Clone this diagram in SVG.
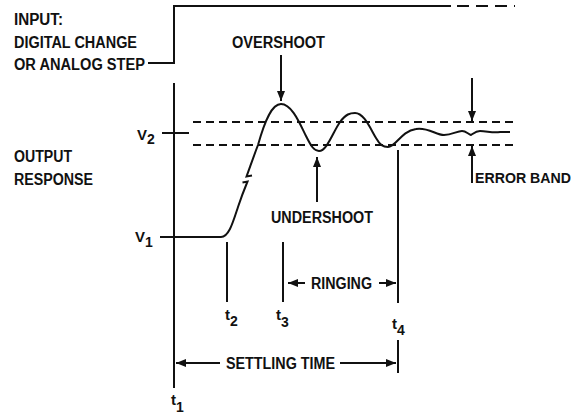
<svg xmlns="http://www.w3.org/2000/svg" width="577" height="415" viewBox="0 0 577 415">
<style>
.ln{stroke:#111;stroke-width:2;fill:none}
.dash{stroke:#111;stroke-width:2;fill:none;stroke-dasharray:8,5}
.t{font-family:"Liberation Sans",Arial,sans-serif;font-weight:bold;font-size:16px;fill:#111}
.v{font-size:15px}
.s{font-size:14px}
.e{font-size:14.6px}
</style>
<defs>
<marker id="ah" viewBox="0 0 10 8" refX="10" refY="4" markerWidth="10" markerHeight="8" markerUnits="userSpaceOnUse" orient="auto">
<path d="M0,0 L10,4 L0,8 z" fill="#111"/>
</marker>
</defs>
<rect width="577" height="415" fill="#fff"/>
<g id="input-step">
<path class="ln" d="M148,63 H174 V6 H451"/>
<path class="ln" d="M457,6 H515" stroke-dasharray="12,7"/>
</g>
<g id="axis">
<path class="ln" d="M174,83 V388"/>
<path class="ln" d="M162,133 H189"/>
</g>
<g id="error-band">
<path class="dash" d="M193,122 H518"/>
<path class="dash" d="M193,145 H518"/>
</g>
<g id="output-curve">
<path class="ln" d="M160,237 L221,237 C229,237 233,222 238,207 C240.5,199.5 244,190 247.5,181.5 L242.5,182.5"/>
<path class="ln" d="M252,175.5 L246.5,176.5 C249,170 253,158 258,145 C265,120 272,104 281,104 C292,104 300,124 306,136 C311,146 314,151 319,151 C327,151 333,132 340,122 C346,114 350,113 355,113 C364,113 370,128 376,138 C380,145 383,147 388,147 C396,147 401,131 416,129 C428,127 436,135 444,135 C452,135 457,131 462,131 C466,131 468,134 471,135 C474,133 476,131 480,131 C487,131 492,133 500,132 L510,132"/>
</g>
<g id="time-markers">
<path class="ln" d="M227,242 V302"/>
<path class="ln" d="M283,242 V302"/>
<path class="ln" d="M398,150 V303"/>
<path class="ln" d="M398,340 V373"/>
</g>
<g id="connectors">
<path class="ln" marker-end="url(#ah)" d="M281,55 V101"/>
<path class="ln" marker-end="url(#ah)" d="M317,202 V157"/>
<path class="ln" marker-end="url(#ah)" d="M472,78 V121"/>
<path class="ln" marker-end="url(#ah)" d="M472,183 V146"/>
<path class="ln" marker-end="url(#ah)" d="M305,283 H288"/>
<path class="ln" marker-end="url(#ah)" d="M379,283 H396"/>
<path class="ln" marker-end="url(#ah)" d="M220,363 H176"/>
<path class="ln" marker-end="url(#ah)" d="M340,363 H396"/>
</g>
<g id="labels">
<text class="t" x="14" y="25" textLength="49" lengthAdjust="spacingAndGlyphs">INPUT:</text>
<text class="t" x="14" y="48" textLength="123" lengthAdjust="spacingAndGlyphs">DIGITAL CHANGE</text>
<text class="t" x="14" y="70" textLength="131" lengthAdjust="spacingAndGlyphs">OR ANALOG STEP</text>
<text class="t" x="232" y="48" textLength="93" lengthAdjust="spacingAndGlyphs">OVERSHOOT</text>
<text class="t v" x="137" y="140">V<tspan class="s" dy="4">2</tspan></text>
<text class="t" x="14" y="162" textLength="58" lengthAdjust="spacingAndGlyphs">OUTPUT</text>
<text class="t" x="14" y="185" textLength="79" lengthAdjust="spacingAndGlyphs">RESPONSE</text>
<text class="t v" x="135" y="242">V<tspan class="s" dy="5">1</tspan></text>
<text class="t" x="271" y="223" textLength="102" lengthAdjust="spacingAndGlyphs">UNDERSHOOT</text>
<text class="t e" x="475" y="183" textLength="96" lengthAdjust="spacingAndGlyphs">ERROR BAND</text>
<text class="t" x="311" y="289" textLength="61" lengthAdjust="spacingAndGlyphs">RINGING</text>
<text class="t" x="226" y="369" textLength="109" lengthAdjust="spacingAndGlyphs">SETTLING TIME</text>
<text class="t v" x="225" y="320">t<tspan class="s" dy="6">2</tspan></text>
<text class="t v" x="276" y="320">t<tspan class="s" dy="7">3</tspan></text>
<text class="t v" x="392" y="329" >t<tspan class="s" dy="6">4</tspan></text>
<text class="t v" x="171" y="405">t<tspan class="s" dy="7">1</tspan></text>
</g>
</svg>
